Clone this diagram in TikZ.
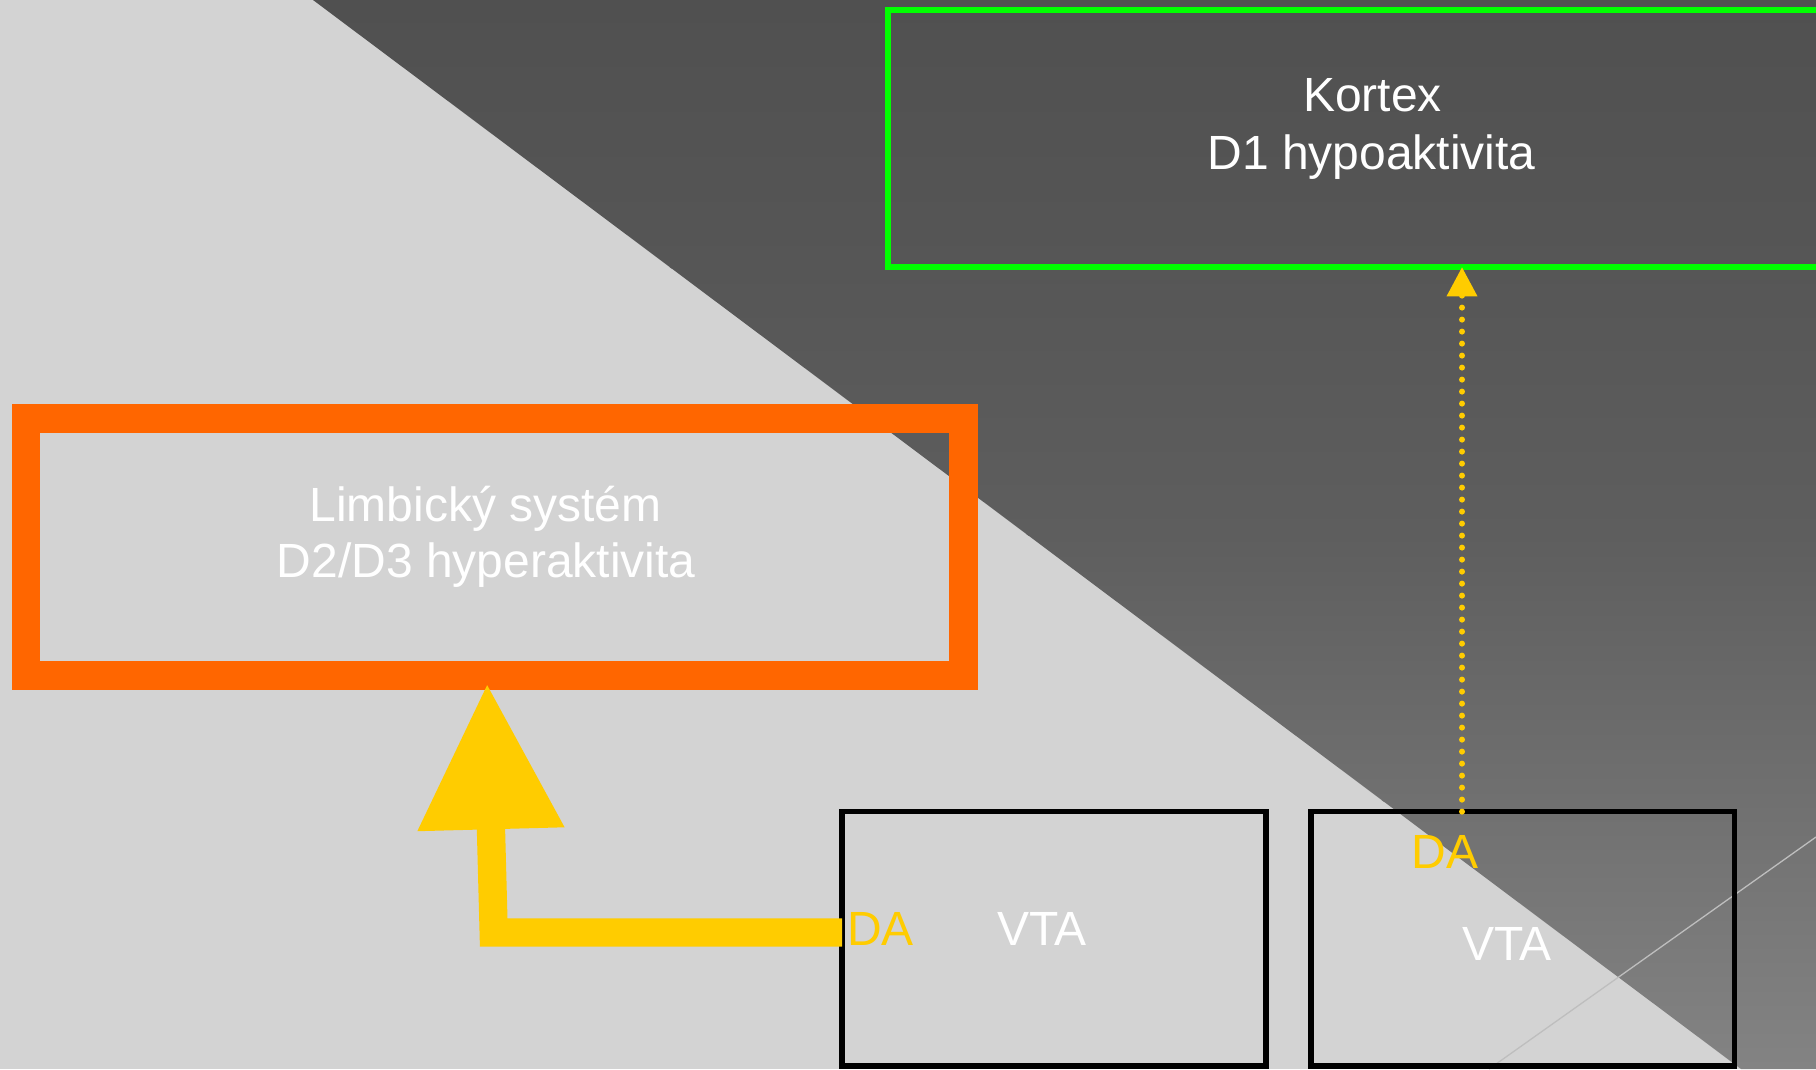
\documentclass[tikz,border=0pt]{standalone}
\usepackage{fontspec}
\setmainfont{Liberation Sans}
\usetikzlibrary{arrows.meta}
\definecolor{bglight}{HTML}{D3D3D3}
\definecolor{dkA}{HTML}{505050}
\definecolor{dkB}{HTML}{565656}
\definecolor{dkC}{HTML}{5E5E5E}
\definecolor{dkD}{HTML}{707070}
\definecolor{dkE}{HTML}{838383}
\definecolor{kgreen}{HTML}{00FF00}
\definecolor{korange}{HTML}{FF6600}
\definecolor{kyellow}{HTML}{FFCC00}
\definecolor{thinline}{HTML}{BEBEBE}
\begin{document}
\begin{tikzpicture}[x=1pt,y=-1pt,
  boxstyle/.style={draw, rectangle, inner sep=0pt, outer sep=0pt},
  txt/.style={text=white, inner sep=0pt, outer sep=0pt, anchor=base, font=\fontsize{48}{57}\selectfont},
  datxt/.style={txt, text=kyellow},
  bigarrow/.style={draw=kyellow, line width=28.3pt, line join=miter, -{Triangle[length=146pt,width=139pt]}},
  dotarrow/.style={draw=kyellow, line width=6pt, line cap=round, dash pattern=on 0pt off 12pt, -{Triangle[length=29.4pt,width=29.3pt]}}]
\useasboundingbox (0,0) rectangle (1816,1069);
% background
\fill[bglight] (0,0) rectangle (1816,1069);
\begin{scope}
  \clip (313,0) -- (1816,0) -- (1816,1069) -- (1741,1069) -- cycle;
  \shade[top color=dkA, bottom color=dkB] (300,0) rectangle (1816,268);
  \shade[top color=dkB, bottom color=dkC] (300,267) rectangle (1816,535);
  \shade[top color=dkC, bottom color=dkD] (300,534) rectangle (1816,801);
  \shade[top color=dkD, bottom color=dkE] (300,800) rectangle (1816,1069);
\end{scope}
\draw[thinline, line width=1.3pt] (1489,1069) -- (1816,837);
% boxes
\node[boxstyle, draw=korange, line width=28.7pt, minimum width=937.2pt, minimum height=257pt] (limb) at (494.6,546.8) {};
\node[boxstyle, draw=kgreen, line width=6pt, minimum width=992pt, minimum height=257pt] (kortex) at (1384,138.5) {};
\node[boxstyle, draw=black, line width=5.5pt, minimum width=424pt, minimum height=254.4pt] (vta1) at (1054,938.8) {};
\node[boxstyle, draw=black, line width=5.5pt, minimum width=423.5pt, minimum height=254.4pt] (vta2) at (1522.75,938.8) {};
% texts
\node[txt] (kortexA) at (1372.5,111.7) {Kortex};
\node[txt] (kortexB) at (1371.6,169.3) {D1 hypoaktivita};
\node[txt] (limbA) at (485.5,521) {Limbický systém};
\node[txt] (limbB) at (486.3,577.7) {D2/D3 hyperaktivita};
\node[datxt] (da1) at (880.4,945) {DA};
\node[txt] (vtaA) at (1042,945) {VTA};
\node[datxt] (da2) at (1445,868) {DA};
\node[txt] (vtaB) at (1507,960) {VTA};
% connectors
\coordinate (bend) at (493.7,932.5);
\coordinate (ltip) at (487.1,683.3);
\coordinate (dx) at (1462,0);
\draw[bigarrow] (bend -| vta1.west) -- (bend) -- (ltip);
\draw[dotarrow] (vta2.north -| dx) -- (kortex.south -| dx);
\end{tikzpicture}
\end{document}
